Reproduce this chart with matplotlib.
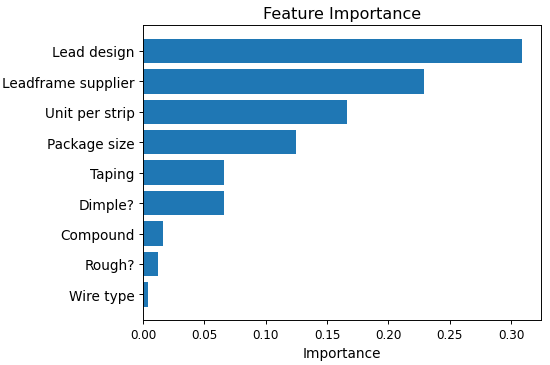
import matplotlib
matplotlib.use("Agg")
import matplotlib.pyplot as plt

features = ["Lead design", "Leadframe supplier", "Unit per strip", "Package size",
            "Taping", "Dimple?", "Compound", "Rough?", "Wire type"]
importance = [0.309, 0.229, 0.166, 0.125, 0.066, 0.066, 0.016, 0.012, 0.004]

fig = plt.figure(figsize=(550/86, 366/86), dpi=86)
ax = fig.add_axes([0.26, 0.123, 0.724, 0.805])
ax.barh(features[::-1], importance[::-1], color="#1f77b4")
ax.set_title("Feature Importance", fontsize=13.4)
ax.set_xlabel("Importance", fontsize=11.4)
ax.tick_params(axis="y", labelsize=11.4)
ax.tick_params(axis="x", labelsize=10)
ax.set_xticks([0.0, 0.05, 0.10, 0.15, 0.20, 0.25, 0.30])
ax.set_xticklabels(["0.00", "0.05", "0.10", "0.15", "0.20", "0.25", "0.30"])
fig.savefig("out.png", dpi=86)
